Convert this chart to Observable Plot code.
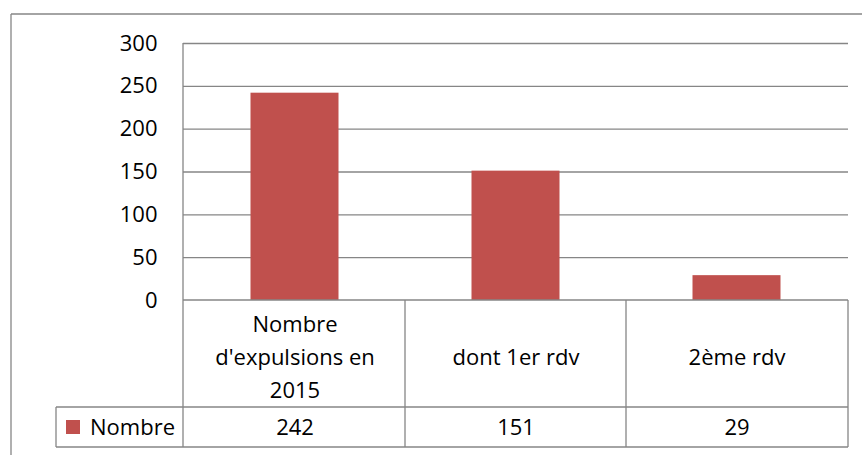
<!DOCTYPE html>
<html><head><meta charset="utf-8">
<script src="https://cdn.jsdelivr.net/npm/d3@7"></script>
<script src="https://cdn.jsdelivr.net/npm/@observablehq/plot@0.6"></script>
<style>
html,body{margin:0;padding:0;background:#fff;overflow:hidden}
#chart svg{display:block}
</style></head><body><div id="chart"></div>
<script>
const categories = ["Nombre d'expulsions en 2015", "dont 1er rdv", "2ème rdv"];
const categoryLines = ["Nombre\nd'expulsions en\n2015", "dont 1er rdv", "2ème rdv"];
const values = [242, 151, 29];
const seriesName = "Nombre";
const yTicks = [0, 50, 100, 150, 200, 250, 300];

const data = categories.map((c, i) => ({category: c, label: categoryLines[i], value: values[i]}));

const W = 862, H = 455;
const gray = "#868686";
const barColor = "#C0504D";
const font = "'Open Sans', sans-serif";

const tableMark = (index, scales, vals, dims) => {
  const x = scales.x, y = scales.y;
  const svgns = "http://www.w3.org/2000/svg";
  const g = d3.create("svg:g");
  const left = dims.marginLeft, right = dims.width - dims.marginRight;
  const y0 = y(0), yTop = y(d3.max(yTicks));
  const rowTop = y0 + 107, rowBottom = y0 + 147;
  const legendLeft = 56;
  const lines = g.append("g").attr("stroke", gray).attr("stroke-width", 1.3).attr("fill", "none");
  const L = (x1, y1, x2, y2) => lines.append("line").attr("x1", x1).attr("y1", y1).attr("x2", x2).attr("y2", y2);
  // outer chart area border (clipped by window)
  L(11, 14, W, 14);
  L(11, 14, 11, H);
  // table horizontals
  L(left, y0, right, y0);
  L(legendLeft, rowTop, right, rowTop);
  L(legendLeft, rowBottom, right, rowBottom);
  // verticals
  L(left, yTop, left, rowBottom);
  categories.forEach((c, i) => { if (i > 0) L(x(c), y0, x(c), rowBottom); });
  L(right, y0, right, rowBottom);
  L(legendLeft, rowTop, legendLeft, rowBottom);
  // legend key
  const cy = (rowTop + rowBottom) / 2;
  g.append("rect").attr("x", 66).attr("y", cy - 7).attr("width", 14).attr("height", 14).attr("fill", barColor);
  g.append("text").attr("x", left - 8).attr("y", cy).attr("dy", "0.35em")
    .attr("text-anchor", "end").attr("fill", "black").attr("font-size", 22).attr("font-family", font)
    .text(seriesName);
  return g.node();
};

const chart = Plot.plot({
  width: W,
  height: H,
  marginTop: 43,
  marginLeft: 183,
  marginRight: 14,
  marginBottom: 155,
  style: {fontFamily: font, fontSize: "22px", color: "black", background: "white", overflow: "hidden"},
  x: {domain: categories, padding: 0, axis: null},
  y: {domain: [0, 300], ticks: yTicks, tickSize: 0, tickPadding: 26, label: null},
  marks: [
    Plot.ruleY(yTicks.filter(t => t > 0), {stroke: gray, strokeWidth: 1.3}),
    Plot.barY(data, {x: "category", y: "value", fill: barColor, insetLeft: 66.5, insetRight: 66.5}),
    Plot.text(data, {x: "category", y: () => 0, text: "label", dy: 53.5, lineAnchor: "middle", lineHeight: 1.5, fontSize: 22, fill: "black"}),
    Plot.text(data, {x: "category", y: () => 0, text: d => String(d.value), dy: 127, lineAnchor: "middle", fontSize: 22, fill: "black"}),
    tableMark
  ]
});
document.getElementById("chart").appendChild(chart);
</script>
</body></html>
